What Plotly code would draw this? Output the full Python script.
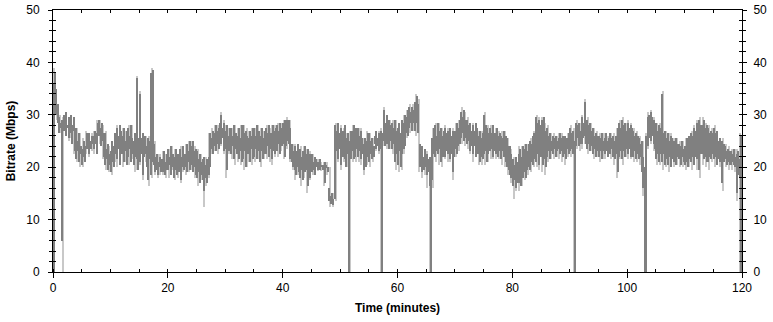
import numpy as np
import plotly.graph_objects as go

step_dark = 0.25   # minutes per dark column
step_light = 0.5   # minutes per light column

# Dark band: per 0.25-min column, max and min bitrate (Mbps); 5 minutes per line
dark_hi = [
    36, 38, 35, 32,  29.5, 28.5, 29, 30,  28.5, 30.5, 28, 29.5,  30, 28, 29.5, 27,  27.5, 25, 26.5, 24,
    23.5, 25, 24, 26.5,  25.5, 26.5, 25, 26,  26, 27, 26.5, 28.5,  29, 27.5, 28.5, 26.5,  26.5, 23.5, 24.5, 22.5,
    23, 25, 24, 26.5,  27.5, 26, 28, 27,  26, 27.5, 25, 27,  27.5, 26, 28, 25.5,  25, 26.5, 37, 25.5,
    34, 25.5, 26.5, 24.5,  26, 24, 25.5, 25,  38, 38.5, 24.5, 22,  22.5, 21, 22, 21.5,  21.5, 23, 21, 22.5,
    23.5, 22, 24, 22.5,  22, 23.5, 21.5, 22.5,  23.5, 22, 24, 22.5,  22.5, 24.5, 23, 25,  24, 25, 23, 23.5,
    23, 21.5, 22.5, 21,  21.5, 22, 20.5, 21.5,  22, 26.5, 25.5, 27,  26.5, 28, 27, 27.5,  28.5, 30, 27.5, 28.5,
    27, 28, 26, 27.5,  27.5, 26, 28, 26.5,  26, 27.5, 25.5, 28,  28, 26.5, 27, 26,  25.5, 27, 26, 27.5,
    27.5, 26, 28, 27,  26, 27.5, 25.5, 27,  27.5, 26.5, 28, 26.5,  26.5, 28, 27, 27.5,  28, 27, 28.5, 27.5,
    28.5, 29, 27.5, 29,  29, 27.5, 24.5, 23,  24, 23, 24.5, 22.5,  23.5, 22, 23, 24,  22.5, 23.5, 21.5, 22.5,
    22.5, 21, 22, 21.5,  21, 20.5, 21.5, 20.5,  20.5, 21, 20.5, 20,  16, 14.5, 15, 14,  28, 27, 28.5, 26.5,
    27.5, 26.5, 27, 28,  25.5, 26.5, 25, 27,  27, 28, 26, 27.5,  27.5, 26, 27, 25.5,  24.5, 25.5, 25, 26.5,
    26.5, 25, 25.5, 24,  26, 27, 25.5, 26.5,  27, 26.5, 31, 28.5,  30, 28.5, 29, 28,  28.5, 27.5, 29, 27,
    27.5, 28.5, 26.5, 29,  28.5, 30, 29.5, 31,  31.5, 30.5, 31.5, 31,  32.5, 33.5, 32, 24.5,  23, 24, 22, 23.5,
    22.5, 21.5, 22, 21,  25.5, 27.5, 28, 26,  28.5, 27, 27.5, 26,  27, 27.5, 26.5, 27,  27.5, 26, 27, 26.5,
    27, 28.5, 27.5, 29,  30.5, 29.5, 31, 29,  29, 28, 28.5, 27,  28, 27, 28.5, 27.5,  26, 27, 25.5, 26.5,
    30, 28, 27.5, 26.5,  27.5, 26.5, 28, 26.5,  26.5, 27.5, 26, 26.5,  26, 25.5, 27, 26,  25.5, 24, 24, 22.5,
    21.5, 20.5, 22, 21,  22.5, 23.5, 22, 24,  23.5, 24.5, 23, 24.5,  25, 24.5, 26, 26.5,  29.5, 28.5, 29, 28,
    29, 28, 29.5, 27,  27.5, 26, 26.5, 25,  26, 25.5, 26, 25,  25.5, 26.5, 25.5, 26,  26, 25, 25.5, 26.5,
    27.5, 26.5, 27, 25,  28.5, 28, 28.5, 27,  29.5, 28.5, 32.5, 29,  29, 28, 28.5, 27,  27.5, 26, 26.5, 26,
    26, 25.5, 26.5, 25,  25.5, 26.5, 25, 25.5,  26.5, 25.5, 26, 25,  26, 27.5, 28.5, 27.5,  29, 28, 28.5, 27,
    28.5, 27.5, 28, 27.5,  27, 26, 26.5, 26,  25.5, 24.5, 25, 22,  20, 26, 29.5, 30,  30.5, 29.5, 29, 28,
    28.5, 27, 28, 27.5,  34, 26.5, 27, 25.5,  26.5, 25, 26, 25.5,  25, 24, 25.5, 24.5,  24.5, 24, 25, 23.5,
    24, 25.5, 24.5, 26,  26.5, 26, 27.5, 27,  28.5, 27.5, 29, 28,  28, 29, 27.5, 28,  27.5, 26.5, 27, 26.5,
    27.5, 26.5, 27, 25,  25.5, 24, 25, 24.5,  24, 23, 23.5, 23,  23, 22.5, 23.5, 22,  22.5, 23, 21.5, 26,
]
dark_lo = [
    0, 31, 30, 28.5,  26.5, 27.5, 6, 27,  27, 26, 27.5, 25.5,  26.5, 24.5, 27, 23,  21.5, 23, 21, 22.5,
    20.5, 22, 21, 23.5,  24, 22.5, 23.5, 24.5,  23.5, 24.5, 22.5, 26,  26, 24, 25, 22,  20.5, 21.5, 19.5, 20.5,
    19, 21, 20, 22.5,  21.5, 23.5, 20.5, 23,  22.5, 21, 23, 20.5,  22, 23.5, 21, 22.5,  20.5, 22, 21.5, 19.5,
    21, 22.5, 18.5, 22,  22.5, 20, 17.5, 21.5,  18.5, 21, 20.5, 19,  19.5, 18.5, 20, 19,  19, 20, 18.5, 19.5,
    19.5, 20.5, 18.5, 20,  18, 19.5, 18.5, 19,  19, 17.5, 20, 19.5,  20, 19, 21, 19.5,  20.5, 19, 20, 18.5,
    18, 19, 17, 18.5,  17.5, 15.5, 18, 17,  18.5, 20, 23.5, 22.5,  24, 23, 24.5, 23.5,  25, 24.5, 25.5, 23,
    23.5, 19.5, 23, 24,  22.5, 24, 21.5, 23.5,  22.5, 21.5, 23, 21,  21.5, 23, 20, 22.5,  22.5, 21, 23.5, 21.5,
    22, 23.5, 21.5, 23,  21, 23, 21.5, 22.5,  22.5, 24, 22, 23.5,  21.5, 23, 22.5, 24,  23, 24.5, 22.5, 24,
    24.5, 22, 24, 25,  24.5, 21.5, 21, 20,  19.5, 18.5, 20, 19,  18, 19.5, 17.5, 19,  19.5, 16.5, 19, 18,
    19, 19.5, 18.5, 20,  19.5, 19.8, 19.5, 20,  19.5, 17, 19.8, 19,  13.5, 13, 13.5, 12.8,  14, 23, 21.5, 23.5,
    20.5, 23, 22, 21.5,  20, 22.5, 0, 21.5,  23, 21.5, 22, 23.5,  22, 23, 21.5, 22.5,  19.5, 21, 20, 22,
    21, 22.5, 21.5, 22,  24.5, 23.5, 24, 23,  23.5, 0, 25, 24,  24.5, 25.5, 23.5, 25,  23.5, 24.5, 21, 22.5,
    20.5, 23, 20, 22.5,  23.5, 24, 26.5, 26,  27.5, 28.5, 27, 28.5,  27, 28.5, 26.5, 20,  20.5, 19, 19.5, 20,
    18.5, 19, 16.5, 0,  17.5, 22.5, 22, 23,  22.5, 23.5, 21, 22,  23.5, 22, 23, 22.5,  21.5, 22.5, 19, 22,
    23.5, 22.5, 24, 24.5,  25.5, 26.5, 25, 25.5,  24.5, 25, 23, 24,  22.5, 24, 22, 23.5,  22.5, 21, 22, 21.5,
    22.5, 23, 21, 22.5,  23, 23.5, 22, 23,  22.5, 23.5, 22, 23,  21.5, 23, 22, 21,  20, 19.5, 18.5, 18,
    16.5, 17.5, 16, 17,  17, 18.5, 16.5, 18,  19, 18, 19.5, 20,  19.5, 21, 20.5, 21.5,  21, 22.5, 20.5, 22,
    22, 20.5, 21.5, 20,  22, 23, 21.5, 23,  22.5, 23.5, 22, 23,  23.5, 22.5, 23, 22,  22.5, 21.5, 23.5, 22.5,
    23, 23.5, 22.5, 0,  24, 25.5, 24, 24.5,  24.5, 25.5, 26, 24.5,  23.5, 24.5, 23, 24,  22.5, 23.5, 22, 23,
    22, 23, 21.5, 23,  22.5, 23, 22, 23.5,  22.5, 23.5, 22, 21.5,  22.5, 19, 22, 23,  21.5, 23, 22, 23.5,
    22.5, 23.5, 22, 23,  22, 23, 21.5, 22.5,  21.5, 22, 19, 16,  0, 0, 24, 25.5,  25, 26, 24.5, 23.5,
    21.5, 22.5, 21, 22.5,  21, 22.5, 20.5, 21.5,  20.5, 22, 20, 21.5,  21, 21.5, 20.5, 22,  21.5, 20.5, 22, 21,
    20.5, 21, 20, 21.5,  21, 22, 20.5, 22,  21.5, 22, 19.5, 22.5,  22.5, 21.5, 22, 21,  21, 22, 21.5, 22.5,
    21.5, 22, 20.5, 21.5,  21, 21.5, 17, 21,  21.5, 20.5, 21, 20.5,  20.5, 21, 20.5, 20,  15, 18.5, 18, 0,
]

# Light band (raw samples) per 0.5-min column: max and min (Mbps); 5 minutes per line
light_hi = [
    39, 32,  30, 29.5,  30.5, 29.5,  30, 28.5,  27.5, 26.5,
    25.5, 27,  26.5, 26.5,  27, 29,  29, 28,  27, 24,
    25, 26.5,  28, 28,  27.5, 27,  28, 28,  26.5, 37.5,
    34.5, 26,  26, 26,  39, 25,  22.5, 22.5,  23, 22.5,
    23.5, 24,  23.5, 22.5,  24, 23.5,  24.5, 25,  25, 24,
    23.5, 22.5,  22, 22,  26.5, 27.5,  28, 28,  30.5, 29,
    28, 27.5,  27.5, 28,  27.5, 28,  28, 27.5,  27, 27.5,
    27.5, 28,  27.5, 27,  28, 27.5,  28, 28,  28.5, 28.5,
    29, 29.5,  29, 24.5,  24.5, 24,  24, 24,  23.5, 23,
    22.5, 22,  21.5, 21,  21, 21,  20, 15,  28.5, 28,
    28, 27.5,  26.5, 27,  28, 27.5,  27.5, 27.5,  25.5, 27,
    26.5, 25.5,  27, 27,  27.5, 31.5,  30, 29,  29, 29,
    28.5, 29,  30, 31,  32, 32,  34, 33,  24, 23.5,
    23, 22,  27.5, 28.5,  28.5, 27.5,  28, 27.5,  27.5, 27.5,
    28.5, 29,  31.5, 30.5,  29.5, 28.5,  28.5, 28,  27, 27,
    30.5, 28,  28, 28,  27.5, 27,  27, 27,  25.5, 23.5,
    22, 21.5,  24, 24,  24.5, 24.5,  25.5, 27,  30, 29.5,
    29.5, 28.5,  28, 26.5,  26.5, 26,  26.5, 26.5,  26, 26.5,
    28, 27.5,  29, 28.5,  30, 33,  29.5, 28.5,  27.5, 27,
    26.5, 26.5,  26.5, 26,  26.5, 26.5,  27.5, 29,  29.5, 28.5,
    29, 28.5,  27.5, 27,  26, 25,  26.5, 30.5,  31, 29.5,
    28.5, 28.5,  34.5, 27,  26.5, 26.5,  25.5, 25.5,  25, 25,
    25.5, 26,  27, 28,  29, 29.5,  29.5, 28.5,  28, 27.5,
    28, 26.5,  25.5, 25.5,  24.5, 24,  23.5, 23.5,  23.5, 26.5,
]
light_lo = [
    0, 29,  26.5, 0,  26, 25,  25.5, 22.5,  21, 20,
    20, 22.5,  22, 23,  22.5, 25,  24.5, 21.5,  19.5, 19,
    18.5, 21,  20, 22,  20, 21,  20.5, 21.5,  19, 19.5,
    20.5, 17.5,  21, 16.5,  18, 18.5,  18, 18.5,  18.5, 18,
    18, 19.5,  17.5, 18,  17, 19,  18.5, 19,  19.5, 18,
    16.5, 17.5,  12.5, 16.5,  18, 22.5,  23, 22.5,  24, 22.5,
    18, 22.5,  21.5, 20.5,  21, 20.5,  19.5, 20,  21, 20.5,
    21, 21.5,  20, 21.5,  21.5, 21,  20.5, 22,  22, 23,
    21.5, 23.5,  21, 19.5,  17.5, 18.5,  16.5, 18,  15, 17.5,
    18.5, 19,  19.2, 19.2,  16.5, 18.5,  12.5, 12.5,  13.5, 21,
    19.5, 21,  20, 0,  21, 21,  21, 20.5,  18.5, 20.5,
    20, 21,  23, 22.5,  0, 24,  23.5, 23.5,  22.5, 19.5,
    19, 19.5,  22.5, 25.5,  26.5, 27,  26, 19,  18, 18.5,
    16, 0,  16, 21,  20.5, 20,  21.5, 21,  21, 17.5,
    22, 23,  24.5, 24,  23.5, 22.5,  21, 22.5,  20.5, 20.5,
    20.5, 21,  21.5, 21.5,  21.5, 21.5,  20.5, 20,  18.5, 17,
    14, 15.5,  15.5, 16.5,  17.5, 18.5,  19, 20,  20, 19.5,
    19, 18.5,  21, 21.5,  21.5, 22,  21.5, 21,  20.5, 22,
    22, 0,  23.5, 23,  23.5, 24.5,  22.5, 23,  21.5, 22,
    21, 21.5,  21.5, 22,  21.5, 20.5,  18, 21.5,  20.5, 22,
    21.5, 21.5,  21, 21,  20.5, 14.5,  0, 23.5,  24.5, 23,
    20.5, 20.5,  19.5, 20,  19, 20,  20, 20.5,  20, 20,
    19.5, 20,  19.5, 20.5,  19.5, 18,  20.5, 20,  19.5, 21,
    20, 20.5,  20, 15.5,  20, 19.5,  19.5, 19,  13.5, 0,
]

x_ticks = [0, 20, 40, 60, 80, 100, 120]
y_ticks = [0, 10, 20, 30, 40, 50]

dark_hi_a = np.array(dark_hi, dtype=float)
dark_lo_a = np.array(dark_lo, dtype=float)
light_hi_a = np.array(light_hi, dtype=float)
light_lo_a = np.array(light_lo, dtype=float)
t_dark = np.arange(len(dark_hi)) * step_dark
t_light = np.arange(len(light_hi)) * step_light

FONT = "Liberation Sans, Arial, sans-serif"
DARK = "#808080"
LIGHT = "#c8c8c8"

fig = go.Figure()
fig.add_trace(go.Bar(x=t_light, y=light_hi_a - light_lo_a, base=light_lo_a,
                     width=step_light * 0.5, offset=step_light * 0.25,
                     marker=dict(color=LIGHT, line=dict(width=0)),
                     xaxis="x", yaxis="y", showlegend=False, hoverinfo="skip"))
fig.add_trace(go.Bar(x=t_dark, y=dark_hi_a - dark_lo_a, base=dark_lo_a,
                     width=step_dark, offset=0, marker=dict(color=DARK, line=dict(width=0)),
                     xaxis="x2", yaxis="y2", showlegend=False,
                     customdata=dark_hi_a,
                     hovertemplate="%{x:.2f} min: %{base}-%{customdata} Mbps<extra></extra>"))
# empty traces so that the tick-only overlay axes are rendered
fig.add_trace(go.Scatter(x=[], y=[], xaxis="x3", yaxis="y3", showlegend=False))
fig.add_trace(go.Scatter(x=[], y=[], xaxis="x3", yaxis="y4", showlegend=False))

common_x = dict(range=[0, 120], showgrid=False, zeroline=False, automargin=False, fixedrange=True)
common_y = dict(range=[0, 50], showgrid=False, zeroline=False, automargin=False, fixedrange=True)

fig.update_layout(
    width=773, height=322,
    margin=dict(l=53, r=31, t=10, b=50, autoexpand=False),
    paper_bgcolor="white", plot_bgcolor="white",
    barmode="overlay", bargap=0,
    font=dict(family=FONT, size=12, color="black"),
    xaxis=dict(**common_x, tickmode="array", tickvals=x_ticks,
               ticks="outside", ticklen=5, tickcolor="black",
               showline=True, linecolor="black", linewidth=1,
               minor=dict(ticks="inside", ticklen=3, dtick=5, tick0=0, tickcolor="black"),
               title=dict(text="<b>Time (minutes)</b>", font=dict(size=12), standoff=9),
               tickfont=dict(size=12)),
    xaxis2=dict(**common_x, overlaying="x", side="top", anchor="y2",
                tickmode="linear", tick0=0, dtick=5, ticks="inside", ticklen=3, tickcolor="black",
                showticklabels=False, showline=True, linecolor="black", linewidth=1),
    xaxis3=dict(**common_x, overlaying="x", side="bottom", anchor="y3",
                tickmode="linear", tick0=0, dtick=20, ticks="inside", ticklen=3, tickcolor="black",
                showticklabels=False, showline=False),
    yaxis=dict(**common_y, tickmode="array", tickvals=y_ticks,
               ticks="outside", ticklen=4, tickcolor="black",
               showline=True, linecolor="black", linewidth=1, ticklabelstandoff=6,
               minor=dict(ticks="outside", ticklen=3, dtick=2, tick0=0, tickcolor="black"),
               title=dict(text="<b>Bitrate (Mbps)</b>", font=dict(size=12), standoff=8),
               tickfont=dict(size=12)),
    yaxis2=dict(**common_y, overlaying="y", side="right", anchor="x2",
                tickmode="array", tickvals=y_ticks,
                ticks="outside", ticklen=4, tickcolor="black", ticklabelstandoff=4,
                showline=True, linecolor="black", linewidth=1,
                minor=dict(ticks="outside", ticklen=3, dtick=2, tick0=0, tickcolor="black"),
                tickfont=dict(size=12)),
    yaxis3=dict(**common_y, overlaying="y", side="left", anchor="x3",
                tickmode="linear", tick0=0, dtick=2, ticks="inside", ticklen=3, tickcolor="black",
                showticklabels=False, showline=False),
    yaxis4=dict(**common_y, overlaying="y", side="right", anchor="x3",
                tickmode="linear", tick0=0, dtick=2, ticks="inside", ticklen=3, tickcolor="black",
                showticklabels=False, showline=False),
)

fig.write_html("out.html", config={"displayModeBar": False},
               post_script="document.body.style.margin='0px';")
